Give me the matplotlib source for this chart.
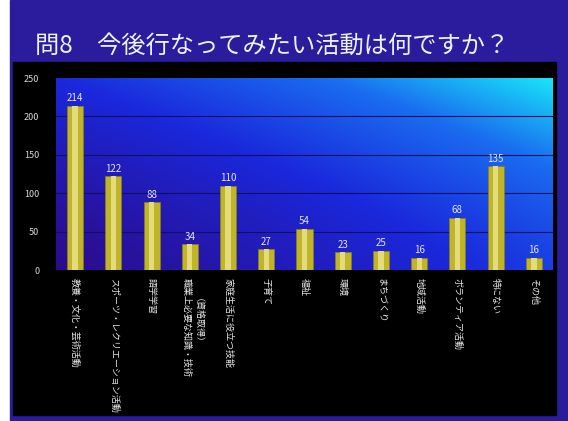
import numpy as np
import matplotlib
matplotlib.use("Agg")
import matplotlib.pyplot as plt
import matplotlib.transforms as mtransforms
from matplotlib.colors import LinearSegmentedColormap
from matplotlib.patches import Rectangle

plt.rcParams['font.family'] = ['Noto Sans CJK JP', 'DejaVu Sans']

title = "問8　今後行なってみたい活動は何ですか？"
categories = [
    "教養・文化・芸術活動",
    "スポーツ・レクリエーション活動",
    "語学学習",
    "職業上必要な知識・技術\n（資格取得）",
    "家庭生活に役立つ技能",
    "子育て",
    "福祉",
    "環境",
    "まちづくり",
    "地域活動",
    "ボランティア活動",
    "特にない",
    "その他",
]
values = [214, 122, 88, 34, 110, 27, 54, 23, 25, 16, 68, 135, 16]
yticks = [0, 50, 100, 150, 200, 250]

navy = "#2a1c9c"
fig = plt.figure(figsize=(5.68, 4.21), dpi=100, facecolor="white")

# frame: navy slide with black chart panel (behind the axes)
fig.patches.append(Rectangle((10 / 568, 0), 558 / 568, 1, transform=fig.transFigure,
                             color=navy, zorder=-2))
fig.patches.append(Rectangle((13 / 568, 6 / 421), 543 / 568, 353 / 421,
                             transform=fig.transFigure, color="black", zorder=-1))
fig.text(35 / 568, 1 - 46 / 421, title, color="#f0f0f8", fontsize=17.5,
         ha="left", va="center")

ax = fig.add_axes([56 / 568, 151 / 421, 497 / 568, 192 / 421])
ax.set_facecolor("none")
x = np.arange(len(values))
ax.set_xlim(-0.5, len(values) - 0.5)
ax.set_ylim(0, 250)

# diagonal gradient background
cmap = LinearSegmentedColormap.from_list(
    "bg", [(0.0, "#2c0c8c"), (0.45, "#1a28dc"), (0.75, "#1a6cf0"), (1.0, "#18e4f8")])
gx, gy = np.meshgrid(np.linspace(0, 1, 200), np.linspace(0, 1, 100))
grad = 0.55 * gx + 0.45 * gy ** 1.3
ax.imshow(grad, cmap=cmap, extent=[-0.5, len(values) - 0.5, 0, 250],
          origin="lower", aspect="auto", zorder=0)

for t in yticks[1:-1]:
    ax.axhline(t, color="#101060", lw=0.8, zorder=1)

ax.bar(x, values, width=0.42, color="#c0b428", edgecolor="#8a8018", lw=0.5, zorder=2)
ax.bar(x, values, width=0.14, color="#e4dc7c", lw=0, zorder=3)

for xi, v in zip(x, values):
    ax.text(xi, v + 3, str(v), color="#e4e4ff", fontsize=7,
            ha="center", va="bottom", zorder=4)

ax.set_yticks(yticks)
ax.set_yticklabels([str(t) for t in yticks], color="#d8d8d8", fontsize=6.5)
ax.set_xticks(x)
ax.set_xticklabels([])
ax.tick_params(axis="both", length=0)
ax.tick_params(axis="y", pad=12)
for s in ax.spines.values():
    s.set_visible(False)

# vertical category labels, one column per line (long first line on the left,
# shorter continuation to its right and a bit lower, as in the slide)
base = ax.get_xaxis_transform()
for xi, cat in zip(x, categories):
    lines = cat.split("\n")
    n = len(lines)
    for j, line in enumerate(lines):
        dx = (j - (n - 1) / 2) * 5
        dy = -6 - 14 * j
        tr = base + mtransforms.ScaledTranslation(dx / 72, dy / 72, fig.dpi_scale_trans)
        ax.text(xi, 0, line, transform=tr, rotation=-90, color="#e8e8e8",
                fontsize=6.5, ha="center", va="top", clip_on=False)

fig.savefig("out.png", dpi=100, facecolor=fig.get_facecolor())
